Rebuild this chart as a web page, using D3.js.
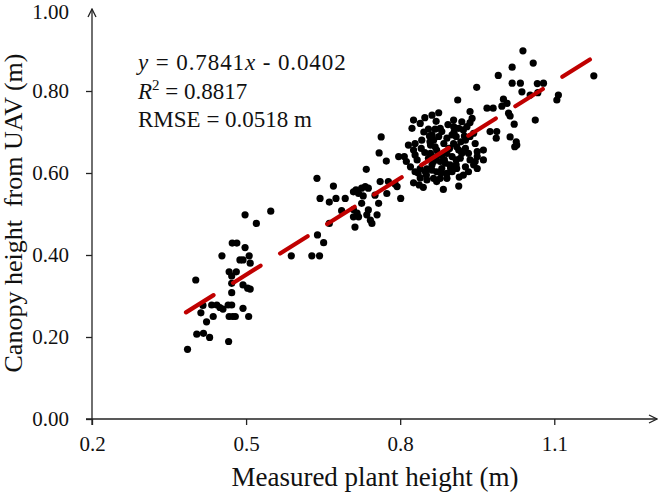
<!DOCTYPE html>
<html>
<head>
<meta charset="utf-8">
<script src="https://cdn.jsdelivr.net/npm/d3@7/dist/d3.min.js"></script>
<style>
html,body{margin:0;padding:0;background:#fff;}
svg text{font-family:'Liberation Serif','Times New Roman',serif !important;}
</style>
</head>
<body>
<svg id="chart" width="660" height="494"></svg>
<script>
// ---- data ----
const measured = [0.386,0.404,0.417,0.429,0.466,0.423,0.412,0.436,0.467,0.474,0.479,0.505,0.416,0.433,0.443,0.449,0.455,0.465,0.472,0.494,
0.402,0.472,0.503,0.508,0.472,0.494,0.472,0.467,0.481,0.453,0.488,0.494,0.506,0.508,0.473,0.482,0.498,0.498,0.520,0.548,
0.588,0.628,0.643,0.639,0.651,0.638,0.644,0.662,0.670,0.675,0.693,0.686,0.662,0.709,0.714,0.719,0.725,0.732,0.738,0.728,
0.725,0.709,0.716,0.719,0.709,0.738,0.735,0.755,0.742,0.745,0.712,0.734,0.751,0.761,0.758,0.774,0.777,0.794,0.801,0.790,
0.763,0.759,0.773,0.797,0.816,0.812,0.820,0.829,0.826,0.829,0.833,0.826,0.837,0.845,0.839,0.852,0.865,0.878,0.891,0.871,
0.839,0.849,0.862,0.871,0.881,0.891,0.901,0.855,0.865,0.878,0.888,0.897,0.909,0.859,0.871,0.881,0.891,0.901,0.909,0.842,
0.862,0.875,0.891,0.901,0.909,0.823,0.855,0.868,0.878,0.881,0.904,0.912,0.826,0.839,0.862,0.875,0.904,0.914,0.920,0.923,
0.936,0.940,0.936,0.927,0.936,0.946,0.904,0.914,0.927,0.933,0.950,0.962,0.917,0.936,0.946,0.962,0.910,0.927,0.950,0.923,
0.933,0.914,0.949,0.969,0.981,0.975,0.988,0.987,0.991,1.001,1.008,0.998,1.011,1.014,1.014,1.026,1.027,1.023,1.018,1.039,
1.059,1.018,1.034,1.067,1.079,1.037,1.053,1.068,1.022,1.063,1.108,1.105,1.177,0.943,0.865,0.859,0.910,0.930,0.943,0.851,
0.950,0.920,0.841,0.829,0.808,0.884,0.896,0.857,
0.846,0.858,0.868,0.885,0.895,0.905,0.848,0.870,0.886,0.898,0.915,0.862,0.880,0.852,0.835,0.918,0.925,0.893,0.870,0.848];
const uavHeight = [0.170,0.207,0.209,0.199,0.189,0.237,0.259,0.250,0.250,0.250,0.250,0.250,0.277,0.278,0.278,0.272,0.268,0.278,0.278,0.270,
0.339,0.308,0.319,0.317,0.331,0.327,0.349,0.359,0.359,0.398,0.388,0.388,0.398,0.380,0.429,0.429,0.418,0.498,0.477,0.507,
0.398,0.398,0.398,0.449,0.430,0.587,0.538,0.529,0.568,0.538,0.538,0.508,0.477,0.554,0.559,0.550,0.563,0.567,0.563,0.544,
0.526,0.511,0.502,0.493,0.493,0.510,0.498,0.498,0.485,0.477,0.468,0.609,0.546,0.579,0.526,0.550,0.579,0.567,0.538,0.573,
0.688,0.649,0.629,0.640,0.668,0.628,0.615,0.603,0.656,0.644,0.632,0.576,0.571,0.565,0.588,0.583,0.587,0.587,0.587,0.579,
0.611,0.603,0.607,0.603,0.611,0.599,0.603,0.636,0.628,0.628,0.624,0.620,0.620,0.668,0.656,0.644,0.648,0.640,0.632,0.680,
0.693,0.689,0.685,0.693,0.689,0.709,0.707,0.707,0.709,0.701,0.713,0.778,0.729,0.721,0.741,0.747,0.729,0.709,0.725,0.705,
0.723,0.733,0.750,0.680,0.689,0.672,0.672,0.656,0.660,0.648,0.652,0.656,0.636,0.632,0.628,0.632,0.611,0.615,0.611,0.595,
0.603,0.568,0.809,0.758,0.758,0.701,0.701,0.685,0.838,0.780,0.770,0.763,0.746,0.739,0.688,0.676,0.668,0.664,0.858,0.898,
0.868,0.819,0.819,0.818,0.819,0.798,0.790,0.796,0.719,0.729,0.790,0.778,0.837,0.620,0.680,0.648,0.664,0.713,0.697,0.595,
0.640,0.648,0.660,0.672,0.640,0.560,0.660,0.690,
0.700,0.676,0.664,0.672,0.660,0.700,0.650,0.640,0.632,0.612,0.590,0.620,0.600,0.610,0.600,0.676,0.690,0.718,0.726,0.735];
const xTickValues = [0.2, 0.5, 0.8, 1.1];
const yTickValues = [0.00, 0.20, 0.40, 0.60, 0.80, 1.00];
const fitSlope = 0.7841, fitIntercept = -0.0402;
const fitRange = [0.383, 1.172];
const eqLines = ["y = 0.7841x - 0.0402", "R2 = 0.8817", "RMSE = 0.0518 m"];
const xTitle = "Measured plant height (m)";
const yTitle = "Canopy height  from UAV (m)";

// ---- chart ----
const svg = d3.select("#chart");
const x = d3.scaleLinear().domain([0.2, 1.3]).range([92, 657]);
const y = d3.scaleLinear().domain([0, 1]).range([419, 9]);
const ink = "#222";
const serif = "'Liberation Serif','Times New Roman',serif";

const defs = svg.append("defs");
defs.append("marker").attr("id","arrow").attr("markerUnits","userSpaceOnUse")
  .attr("viewBox","0 0 10 10").attr("refX",9).attr("refY",5)
  .attr("markerWidth",10).attr("markerHeight",10).attr("orient","auto")
  .append("path").attr("d","M1,1 L9,5 L1,9").attr("fill","none").attr("stroke",ink).attr("stroke-width",1.3);

const xAxis = svg.append("g").attr("transform","translate(0,419)")
  .call(d3.axisBottom(x).tickValues(xTickValues).tickFormat(d3.format(".1f")).tickSize(6).tickSizeOuter(0));
const yAxis = svg.append("g").attr("transform","translate(92,0)")
  .call(d3.axisLeft(y).tickValues(yTickValues).tickFormat(d3.format(".2f")).tickSize(6).tickSizeOuter(0));

[xAxis, yAxis].forEach(g => {
  g.attr("font-family", serif);
  g.select(".domain").attr("stroke",ink).attr("stroke-width",1.3).attr("marker-end","url(#arrow)");
  g.selectAll(".tick line").attr("stroke",ink).attr("stroke-width",1.3);
  g.selectAll(".tick text").attr("fill","#111").style("font-family", serif).attr("font-size",21);
});
xAxis.selectAll(".tick text").attr("dy","1.1em").attr("y",9);
yAxis.selectAll(".tick text").attr("x",-23);
const topTick = yAxis.selectAll(".tick").filter(d => d === 1);
topTick.select("line").remove();
topTick.select("text").attr("dy","0.45em");
yAxis.select(".domain").attr("d", `M0,${y(0)+6}V${y(1)}`);
xAxis.select(".domain").attr("d", `M${x(0.2)-6},0H${x(1.3)}`);

// points
svg.append("g").selectAll("circle").data(measured.map((m,i)=>[m, uavHeight[i]])).join("circle")
  .attr("cx", d => x(d[0])).attr("cy", d => y(d[1])).attr("r", 3.6).attr("fill","#000");

// fit line
svg.append("line")
  .attr("x1", x(fitRange[0])).attr("y1", y(fitSlope*fitRange[0]+fitIntercept))
  .attr("x2", x(fitRange[1])).attr("y2", y(fitSlope*fitRange[1]+fitIntercept))
  .attr("stroke","#c00000").attr("stroke-width",4.2).attr("stroke-linecap","round")
  .attr("stroke-dasharray","32.5,23");

// equation text
const eq = svg.append("g").attr("font-size",23).attr("fill","#111").style("font-family", serif);
const t1 = eq.append("text").attr("x",138).attr("y",70).attr("letter-spacing",0.9);
t1.append("tspan").attr("font-style","italic").text("y");
t1.append("tspan").text(" = 0.7841");
t1.append("tspan").attr("font-style","italic").text("x");
t1.append("tspan").text(" - 0.0402");
const t2 = eq.append("text").attr("x",138).attr("y",99);
t2.append("tspan").attr("font-style","italic").text("R");
t2.append("tspan").attr("font-size",15).attr("dy",-9).text("2");
t2.append("tspan").attr("dy",9).text(" = 0.8817");
eq.append("text").attr("x",138).attr("y",127).text(eqLines[2]);

// titles
svg.append("text").attr("x",375).attr("y",486).attr("text-anchor","middle")
  .attr("font-size",27).attr("fill","#111").style("font-family", serif).text(xTitle);
svg.append("text").attr("transform","translate(22,213) rotate(-90)").attr("text-anchor","middle")
  .attr("font-size",26).attr("fill","#111").style("font-family", serif).style("white-space","pre").text(yTitle);
</script>
</body>
</html>
